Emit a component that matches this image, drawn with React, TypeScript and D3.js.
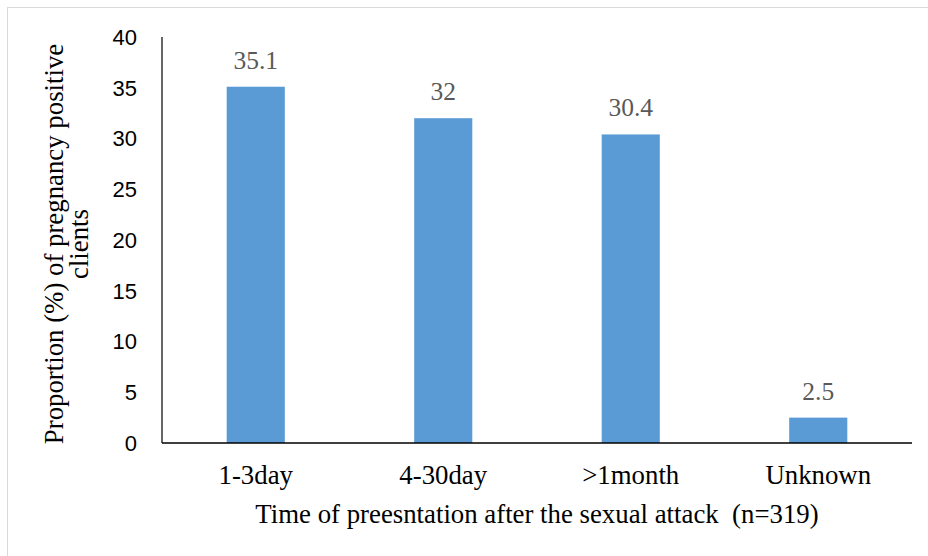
import React from "react";
import * as d3 from "d3";

const categories = ["1-3day", "4-30day", ">1month", "Unknown"];
const values = [35.1, 32, 30.4, 2.5];
const valueLabels = ["35.1", "32", "30.4", "2.5"];
const yTicks = [0, 5, 10, 15, 20, 25, 30, 35, 40];

const W = 928;
const H = 556;
const left = 162;
const right = 912;
const top = 37;
const bottom = 443;

export default function App() {
  const x = d3
    .scaleBand<string>()
    .domain(categories)
    .range([left, right])
    .paddingInner(0.69)
    .paddingOuter(0.345);
  const y = d3.scaleLinear().domain([0, 40]).range([bottom, top]);
  const serif = "'Liberation Serif', 'Times New Roman', serif";
  const sans = "'Liberation Sans', Arial, sans-serif";

  return (
    <svg
      width={W}
      height={H}
      style={{ position: "absolute", left: 0, top: 0, background: "#fff" }}
    >
      <rect x={7.5} y={7.5} width={940} height={580} fill="none" stroke="#d9d9d9" strokeWidth={1} />
      {categories.map((c, i) => (
        <rect
          key={c}
          x={x(c)}
          y={y(values[i])}
          width={x.bandwidth()}
          height={y(0) - y(values[i])}
          fill="#5B9BD5"
        />
      ))}
      {categories.map((c, i) => (
        <text
          key={"l" + c}
          x={(x(c) as number) + x.bandwidth() / 2}
          y={y(values[i]) - 18}
          textAnchor="middle"
          fontFamily={serif}
          fontSize={25.5}
          fill="#595959"
        >
          {valueLabels[i]}
        </text>
      ))}
      <line x1={left} x2={left} y1={top} y2={bottom} stroke="#000" strokeWidth={1.2} />
      <line x1={left} x2={right} y1={bottom} y2={bottom} stroke="#000" strokeWidth={1.6} />
      {yTicks.map((t) => (
        <text
          key={"t" + t}
          x={137}
          y={y(t)}
          dy="0.36em"
          textAnchor="end"
          fontFamily={sans}
          fontSize={22}
          fill="#000"
        >
          {t}
        </text>
      ))}
      {categories.map((c) => (
        <text
          key={"x" + c}
          x={(x(c) as number) + x.bandwidth() / 2}
          y={484}
          textAnchor="middle"
          fontFamily={serif}
          fontSize={26.8}
          fill="#000"
        >
          {c}
        </text>
      ))}
      <text
        x={(left + right) / 2}
        y={523}
        textAnchor="middle"
        fontFamily={serif}
        fontSize={26.8}
        fill="#000"
        style={{ whiteSpace: "pre" }}
      >
        {"Time of preesntation after the sexual attack  (n=319)"}
      </text>
      <g transform="translate(63,244) rotate(-90)">
        <text x={0} y={0} textAnchor="middle" fontFamily={serif} fontSize={26.8} fill="#000">
          Proportion (%) of pregnancy positive
        </text>
        <text x={0} y={25} textAnchor="middle" fontFamily={serif} fontSize={26.8} fill="#000">
          clients
        </text>
      </g>
    </svg>
  );
}
